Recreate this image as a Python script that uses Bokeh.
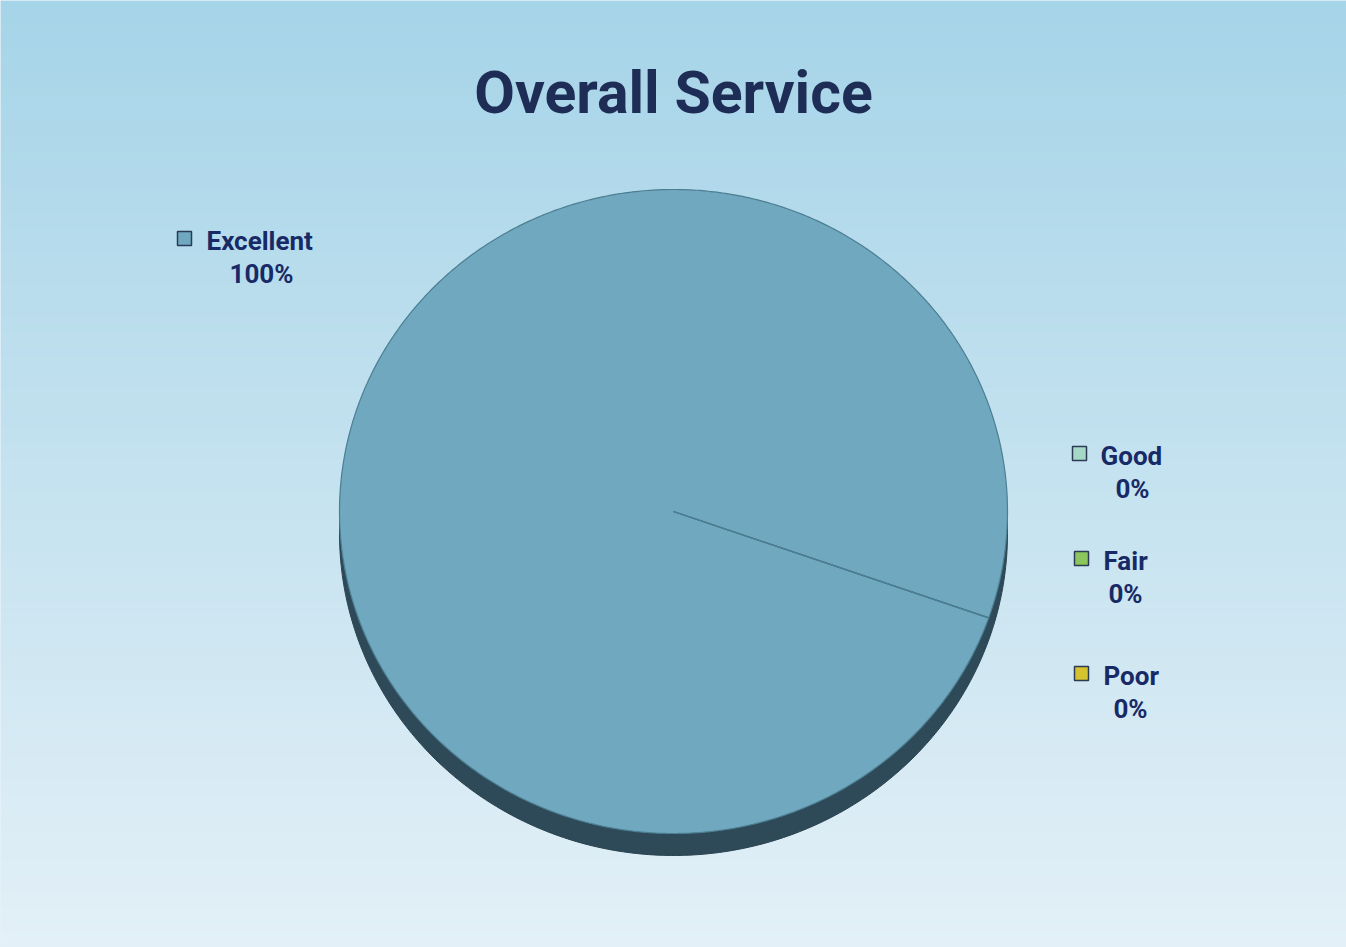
import numpy as np
from bokeh.plotting import figure
from bokeh.models import Range1d
from bokeh.core.properties import value
from bokeh.embed import file_html
from bokeh.resources import INLINE

# ---- data ----
categories = ["Excellent", "Good", "Fair", "Poor"]
shares = [100, 0, 0, 0]
pct_labels = ["100%", "0%", "0%", "0%"]
colors = ["#6FA8BF", "#A6D9C5", "#8CC75E", "#D5C22F"]

W, H = 1346, 947
p = figure(width=W, height=H, x_range=Range1d(0, W), y_range=Range1d(H, 0),
           output_backend="svg", toolbar_location=None, min_border=0,
           outline_line_color="#E6F2F8")
p.axis.visible = False
p.grid.visible = False
p.background_fill_color = "#A6D4E8"
p.border_fill_color = "#A6D4E8"

# background gradient (vertical bands)
top = np.array([0xA6, 0xD4, 0xE8], float)
bot = np.array([0xE3, 0xF0, 0xF7], float)
n = 120
edges = np.linspace(0, H, n + 1)
t = (np.arange(n) + 0.5) / n
bands = ["#%02x%02x%02x" % tuple(int(round(v)) for v in (top * (1 - k) + bot * k)) for k in t]
p.quad(left=0, right=W, top=edges[:-1], bottom=edges[1:] + 0.6,
       fill_color=bands, line_color=None)

# ---- pie geometry ----
cx, cy, rx, ry, depth = 673, 511, 334, 322, 22
start = np.deg2rad(-19.3)

def ept(th, dy=0.0):
    return cx + rx * np.cos(th), cy - ry * np.sin(th) + dy

# side (extrusion) of pie
th = np.linspace(np.pi, 2 * np.pi, 240)
x1, y1 = ept(th)
x2, y2 = ept(th[::-1], depth)
p.patch(np.r_[x1, x2], np.r_[y1, y2], fill_color="#2E4A58", line_color="#2A4350", line_width=1)

# slices (clockwise from start)
total = float(sum(shares))
cum = np.concatenate([[0], np.cumsum(shares)]) / total
xs, ys = [], []
for i in range(len(shares)):
    a0 = start - cum[i] * 2 * np.pi
    a1 = start - cum[i + 1] * 2 * np.pi
    m = max(2, int(abs(a1 - a0) / (2 * np.pi) * 720) + 2)
    ang = np.linspace(a0, a1, m)
    px, py = ept(ang)
    xs.append(list(np.r_[cx, px, cx]))
    ys.append(list(np.r_[cy, py, cy]))
p.patches(xs, ys, fill_color=colors, line_color="#4D7E92", line_width=1.2)

# ---- title ----
p.text(x=[673], y=[92], text=["Overall Service"], text_font=value("Roboto"),
       text_font_size="59px", text_font_style="bold", text_color="#1E2D55",
       text_align="center", text_baseline="middle")

# ---- labels ----
sq_x = [184, 1079, 1081, 1081]
sq_y = [238, 453, 558, 673]
name_x = [206, 1100, 1103, 1103]
pct_x = [261, 1132, 1125, 1130]
name_y = [240, 455, 560, 675]
pct_y = [273, 488, 593, 708]

p.rect(x=sq_x, y=sq_y, width=14, height=14, fill_color=colors,
       line_color="#2B3A55", line_width=1.5)
p.text(x=name_x, y=name_y, text=categories, text_font=value("Roboto"),
       text_font_size="26px", text_font_style="bold", text_color="#172A66",
       text_align="left", text_baseline="middle")
p.text(x=pct_x, y=pct_y, text=pct_labels, text_font=value("Roboto"),
       text_font_size="26px", text_font_style="bold", text_color="#172A66",
       text_align="center", text_baseline="middle")

open("out.html", "w").write(file_html(p, INLINE))
